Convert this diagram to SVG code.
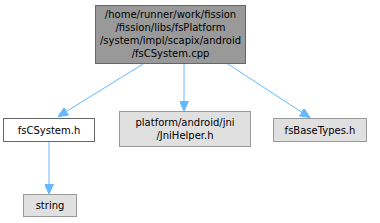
<svg xmlns="http://www.w3.org/2000/svg" width="380" height="223" viewBox="0 0 380 223">
<style>
text{font-family:"DejaVu Sans",sans-serif;font-size:10px;fill:#000;text-anchor:middle}
.e{stroke:#63b8ff;stroke-width:1;fill:none}
.g{fill:#e0e0e0;stroke:#999999}
</style>
<defs>
<marker id="a" markerWidth="10" markerHeight="9" refX="9" refY="4.5" orient="auto" markerUnits="userSpaceOnUse">
<path d="M0,0 L10,4.5 L0,9 z" fill="#63b8ff" stroke="#63b8ff"/>
</marker>
</defs>
<rect width="380" height="223" fill="#fff"/>
<g id="edges">
<path class="e" d="M143,64 L59,116" marker-end="url(#a)"/>
<path class="e" d="M184,64 L184,110" marker-end="url(#a)"/>
<path class="e" d="M228,64 L309,117" marker-end="url(#a)"/>
<path class="e" d="M49,142 L49,193" marker-end="url(#a)"/>
</g>
<g id="n0">
<rect x="95.5" y="5.5" width="150" height="58" fill="#999999" stroke="#666666"/>
<text x="170.5" y="18">/home/runner/work/fission</text>
<text x="170.5" y="31">/fission/libs/fsPlatform</text>
<text x="170.5" y="44">/system/impl/scapix/android</text>
<text x="170.5" y="57">/fsCSystem.cpp</text>
</g>
<g id="n1">
<rect x="3.5" y="118.5" width="91" height="23" fill="#fff" stroke="#666666"/>
<text x="49" y="134">fsCSystem.h</text>
</g>
<g id="n2">
<rect class="g" x="119.5" y="111.5" width="131" height="35"/>
<text x="185" y="126">platform/android/jni</text>
<text x="185" y="139">/JniHelper.h</text>
</g>
<g id="n3">
<rect class="g" x="273.5" y="118.5" width="93" height="23"/>
<text x="320" y="134">fsBaseTypes.h</text>
</g>
<g id="n4">
<rect class="g" x="23.5" y="194.5" width="53" height="22"/>
<text x="50" y="209">string</text>
</g>
</svg>
